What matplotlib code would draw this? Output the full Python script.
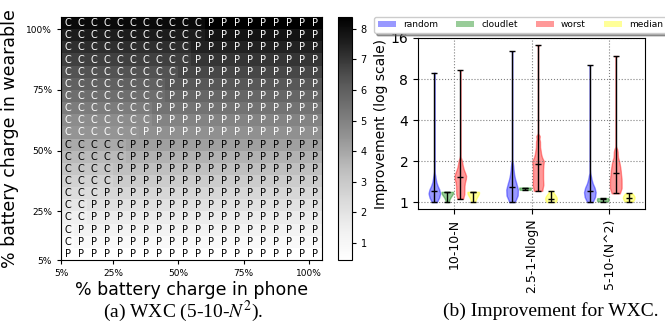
import matplotlib
matplotlib.use('Agg')
import matplotlib.pyplot as plt
from matplotlib.patches import Patch
import numpy as np

plt.rcParams['mathtext.fontset'] = 'stix'

# ---------------- left panel: chosen placement per battery level ----------------
pct_ticks = [0, 4, 9, 14, 19]
pct_labels = ['5%', '25%', '50%', '75%', '100%']

# how many leading cells of each wearable row are "C" (5% row first)
c_cells = [0, 1, 1, 2, 2, 3, 4, 4, 5, 5, 6, 7, 7, 8, 8, 9, 10, 10, 11, 11]
# cell value when "P" is chosen, per wearable row (5% row first)
p_value = [0.44, 0.85, 1.25, 1.65, 2.08, 2.5, 2.9, 3.3, 3.72, 4.14,
           4.6, 4.96, 5.38, 5.8, 6.2, 6.62, 7.05, 7.46, 7.88, 8.39]
# cell value when "C" is chosen
c_value = [0.44, 0.68, 1.06, 1.46, 1.86, 2.28, 2.68, 3.08, 3.5, 3.9,
           4.45, 4.72, 5.14, 5.55, 5.95, 6.36, 6.78, 7.2, 7.62, 8.1]

# ---------------- right panel: improvement samples ----------------
groups = ['10-10-N', '2.5-1-NlogN', '5-10-(N^2)']
strategies = ['random', 'cloudlet', 'worst', 'median']
colors = ['blue', 'green', 'red', 'yellow']

random_runs = [
    [1.0, 1.03, 1.06, 1.08, 1.1, 1.12, 1.13, 1.15, 1.16, 1.18, 1.2, 1.21,
     1.23, 1.25, 1.28, 1.31, 1.35, 1.4, 1.47, 1.56, 8.9],
    [1.0, 1.03, 1.07, 1.1, 1.13, 1.15, 1.17, 1.19, 1.21, 1.23, 1.25, 1.3,
     1.32, 1.35, 1.38, 1.42, 1.47, 1.52, 1.59, 1.67, 1.77, 1.9, 12.8],
    [1.0, 1.03, 1.06, 1.08, 1.1, 1.12, 1.14, 1.16, 1.18, 1.2, 1.22, 1.24,
     1.26, 1.28, 1.31, 1.35, 1.4, 1.46, 1.55, 10.1],
]
cloudlet_runs = [
    [1.0, 1.06, 1.12, 1.17, 1.19, 1.19, 1.19, 1.19, 1.19, 1.19, 1.19],
    [1.23, 1.25, 1.26, 1.27, 1.27, 1.28],
    [1.01, 1.03, 1.04, 1.05, 1.05, 1.06, 1.07],
]
worst_runs = [
    [1.06, 1.1, 1.15, 1.2, 1.25, 1.3, 1.35, 1.4, 1.44, 1.48, 1.52, 1.54,
     1.57, 1.61, 1.65, 1.7, 1.76, 1.83, 1.92, 2.03, 9.3],
    [1.21, 1.25, 1.3, 1.36, 1.42, 1.48, 1.54, 1.6, 1.66, 1.72, 1.78, 1.84,
     1.9, 1.95, 2.0, 2.05, 2.1, 2.2, 2.3, 2.4, 2.55, 2.7, 2.85, 3.05, 14.2],
    [1.16, 1.2, 1.25, 1.3, 1.35, 1.4, 1.45, 1.5, 1.55, 1.6, 1.67, 1.72,
     1.78, 1.85, 1.92, 2.0, 2.1, 2.25, 2.4, 11.8],
]
median_runs = [
    [1.0, 1.05, 1.1, 1.15, 1.19, 1.19, 1.19, 1.19, 1.19, 1.19],
    [1.0, 1.01, 1.02, 1.03, 1.04, 1.05, 1.05, 1.06, 1.06, 1.07, 1.08, 1.09,
     1.1, 1.12, 1.15, 1.21],
    [1.01, 1.04, 1.06, 1.07, 1.08, 1.08, 1.09, 1.1, 1.12, 1.16],
]
all_runs = [random_runs, cloudlet_runs, worst_runs, median_runs]

fig = plt.figure(figsize=(6.65, 3.29), dpi=100)

# heatmap
ax = fig.add_axes([0.0917, 0.2097, 0.3925, 0.7386])
n = len(c_cells)
grid = np.zeros((n, n))
for r in range(n):
    for c in range(n):
        grid[r, c] = c_value[r] if c < c_cells[r] else p_value[r]
mesh = ax.pcolormesh(grid, cmap='Greys')
mid = (grid.min() + grid.max()) / 2
for r in range(n):
    for c in range(n):
        ax.text(c + 0.5, r + 0.5, 'C' if c < c_cells[r] else 'P',
                ha='center', va='center', fontsize=7,
                color='white' if grid[r, c] > mid else 'black')
ax.set_xlim(0, n)
ax.set_ylim(0, n)
ax.set_xticks(pct_ticks)
ax.set_xticklabels(pct_labels)
ax.set_yticks(pct_ticks)
ax.set_yticklabels(pct_labels)
ax.tick_params(labelsize=6.5, length=3)
ax.set_xlabel('% battery charge in phone', fontsize=12.5, labelpad=2)
ax.set_ylabel('% battery charge in wearable', fontsize=12.5, labelpad=5)

cax = fig.add_axes([0.5083, 0.2097, 0.0203, 0.7386])
cb = fig.colorbar(mesh, cax=cax)
cb.set_ticks([1, 2, 3, 4, 5, 6, 7, 8])
cax.tick_params(labelsize=7, length=3)

# violins
ax2 = fig.add_axes([0.6286, 0.3647, 0.3414, 0.5198])
centers = np.arange(1, len(groups) + 1)
bw = lambda k: 0.07 / np.std(k.dataset, ddof=1)
for i, (runs, color) in enumerate(zip(all_runs, colors)):
    vp = ax2.violinplot(runs, positions=centers + (i - 1.5) / 6, widths=0.15,
                        showmedians=True, bw_method=bw)
    for body in vp['bodies']:
        body.set_facecolor(color)
        body.set_edgecolor(color)
        body.set_alpha(0.4)
    for part in ('cmins', 'cmaxes', 'cbars', 'cmedians'):
        vp[part].set_color('black')
        vp[part].set_linewidth(1)

ax2.set_yscale('log', base=2)
ax2.set_ylim(0.89, 16)
ax2.set_xlim(0.54, 3.46)
ax2.set_yticks([1, 2, 4, 8, 16])
ax2.set_yticklabels(['1', '2', '4', '8', '16'])
ax2.yaxis.set_minor_locator(matplotlib.ticker.NullLocator())
ax2.set_xticks(centers)
ax2.set_xticklabels(groups, rotation=90)
ax2.tick_params(axis='y', labelsize=10)
ax2.tick_params(axis='x', labelsize=9)
ax2.grid(True, linestyle=':', color='gray', linewidth=0.8)
ax2.set_ylabel('Improvement (log scale)', fontsize=10, labelpad=2)

handles = [Patch(facecolor=c, alpha=0.4) for c in colors]
fig.legend(handles, strategies, loc='lower left', ncol=4, fontsize=6.5,
           bbox_to_anchor=(374 / 665, 1 - 33 / 329), borderaxespad=0,
           shadow=True)

fig.text(183 / 665, 1 - 311 / 329, r'(a) WXC (5-10-$N^2$).', ha='center',
         va='center', fontsize=14, family='Liberation Serif')
fig.text(551 / 665, 1 - 311 / 329, '(b) Improvement for WXC.', ha='center',
         va='center', fontsize=14, family='Liberation Serif')

fig.savefig('out.png', dpi=100)
